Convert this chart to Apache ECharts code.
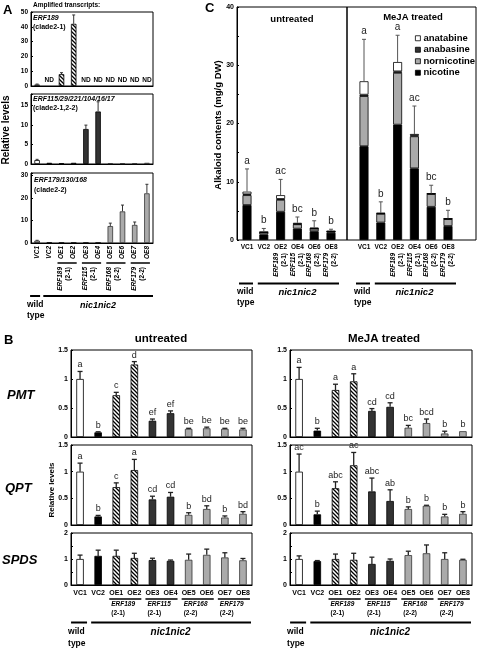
<!DOCTYPE html>
<html><head><meta charset="utf-8">
<script src="https://cdn.jsdelivr.net/npm/echarts@6/dist/echarts.min.js"></script>
<style>html,body{margin:0;padding:0;background:#fff}#c{width:478px;height:650px}</style>
</head><body><div id="c"></div>
<script>
// ---------------- DATA ----------------
// Panel A
const catsA = ['VC1','VC2','OE1','OE2','OE3','OE4','OE5','OE6','OE7','OE8'];
const fillA = ['W','K','H','H','D','D','G','G','G','G'];
const genePairs = [[2,3,'ERF189','(2-1)'],[4,5,'ERF115','(2-1)'],[6,7,'ERF168','(2-2)'],[8,9,'ERF179','(2-2)']];
const a1Val = [1.0, null, 8.0, 42.0, null, null, null, null, null, null];
const a1Err = [0.3, 0, 1.0, 6.0, 0, 0, 0, 0, 0, 0];
const a1Note = ['', 'ND', '', '', 'ND', 'ND', 'ND', 'ND', 'ND', 'ND'];
const a2Val = [1.0, 0.3, 0.2, 0.3, 9.0, 13.5, 0.2, 0.2, 0.2, 0.3];
const a2Err = [0.2, 0, 0, 0, 1.0, 2.5, 0, 0, 0, 0];
const a3Val = [1.0, 0.2, 0.1, 0.1, 0.1, 0.1, 7.5, 14.0, 8.0, 22.0];
const a3Err = [0.2, 0, 0, 0, 0, 0, 1.3, 2.8, 1.3, 4.0];
const ticksA1 = [0, 10, 20, 30, 40, 50];
const ticksA2 = [0, 5, 10, 15];
const ticksA3 = [0, 10, 20, 30];

// Panel B
const pmtU = [1.00, 0.08, 0.72, 1.25, 0.28, 0.41, 0.14, 0.15, 0.14, 0.13];
const pmtUErr = [0.13, 0.01, 0.05, 0.05, 0.03, 0.04, 0.01, 0.02, 0.01, 0.02];
const pmtULet = ['a','b','c','d','ef','ef','be','be','be','be'];
const pmtM = [1.00, 0.11, 0.81, 0.96, 0.45, 0.52, 0.16, 0.24, 0.06, 0.10];
const pmtMErr = [0.20, 0.04, 0.10, 0.13, 0.04, 0.07, 0.04, 0.07, 0.04, 0.0];
const pmtMLet = ['a','b','a','a','cd','cd','bc','bcd','b','b'];
const qptU = [1.00, 0.16, 0.71, 1.03, 0.48, 0.53, 0.19, 0.30, 0.14, 0.21];
const qptUErr = [0.16, 0.02, 0.08, 0.20, 0.06, 0.08, 0.04, 0.06, 0.03, 0.04];
const qptULet = ['a','b','c','a','cd','cd','b','bd','b','bd'];
const qptM = [1.00, 0.20, 0.69, 1.12, 0.63, 0.45, 0.30, 0.36, 0.16, 0.21];
const qptMErr = [0.33, 0.06, 0.12, 0.24, 0.25, 0.21, 0.04, 0.01, 0.04, 0.04];
const qptMLet = ['ac','b','abc','ac','abc','ab','b','b','b','b'];
const spdsU = [1.00, 1.12, 1.12, 1.04, 0.96, 0.93, 0.97, 1.16, 1.06, 0.95];
const spdsUErr = [0.15, 0.22, 0.22, 0.18, 0.07, 0.03, 0.22, 0.22, 0.18, 0.07];
const spdsM = [1.00, 0.92, 1.00, 0.97, 0.81, 0.93, 1.15, 1.22, 1.00, 0.97];
const spdsMErr = [0.12, 0.02, 0.19, 0.25, 0.26, 0.07, 0.15, 0.32, 0.24, 0.02];
const ticksB = [0, 0.5, 1, 1.5];
const ticksSPDS = [0, 1, 2];

// Panel C
const catsC = ['VC1','VC2','OE2','OE4','OE6','OE8'];
const genesC = [null, null, ['ERF189','(2-1)'], ['ERF115','(2-1)'], ['ERF168','(2-2)'], ['ERF179','(2-2)']];
const nicU = [6.0, 0.95, 4.85, 1.95, 1.5, 1.25];
const norU = [1.7, 0.35, 2.05, 0.75, 0.45, 0.2];
const anbU = [0.15, 0.03, 0.15, 0.05, 0.03, 0.02];
const antU = [0.45, 0.05, 0.65, 0.2, 0.12, 0.08];
const errCU = [3.9, 0.6, 2.7, 1.0, 1.2, 0.3];
const letCU = ['a','b','ac','bc','b','b'];
const nicM = [16.1, 3.0, 19.8, 12.3, 5.7, 2.4];
const norM = [8.6, 1.5, 8.9, 5.5, 2.2, 1.2];
const anbM = [0.25, 0.05, 0.25, 0.15, 0.03, 0.03];
const antM = [2.3, 0.1, 1.6, 0.25, 0.07, 0.07];
const errCM = [7.2, 1.9, 4.6, 4.8, 1.4, 1.4];
const letCM = ['a','b','a','ac','bc','b'];
const ticksC = [0, 10, 20, 30, 40];
const compNames = ['nicotine','nornicotine','anabasine','anatabine'];
const legendOrder = ['anatabine','anabasine','nornicotine','nicotine'];

// ---------------- STYLE HELPERS ----------------
const FF = '"Liberation Sans", Arial, Helvetica, sans-serif';
function font(sz, w, st){ return (st||'normal') + ' ' + (w||'bold') + ' ' + sz + 'px ' + FF; }
const hatchCanvas = (function(){
  const c = document.createElement('canvas'); c.width = 4; c.height = 4;
  const g = c.getContext('2d'); g.fillStyle = '#fff'; g.fillRect(0,0,4,4);
  g.strokeStyle = '#000'; g.lineWidth = 1.3; g.beginPath();
  g.moveTo(-1,-1); g.lineTo(5,5); g.moveTo(-1,3); g.lineTo(1,5); g.moveTo(3,-1); g.lineTo(5,1);
  g.stroke(); return c;
})();
const FILL = {W:'#ffffff', K:'#000000', H:{image:hatchCanvas, repeat:'repeat'}, D:'#333333', G:'#aaaaaa'};

const grids = [], xAxes = [], yAxes = [], series = [];
function addGrid(rect, xa, ya){
  const gi = grids.length;
  grids.push(Object.assign({show:false, borderColor:'#000', borderWidth:1, containLabel:false}, rect));
  xAxes.push(Object.assign({gridIndex:gi}, xa));
  yAxes.push(Object.assign({gridIndex:gi}, ya));
  return gi;
}
function catX(cats, lab, lineShow){
  return {type:'category', data:cats, axisTick:{show:false},
    axisLine:{show: lineShow !== false, lineStyle:{color:'#000', width:1}},
    axisLabel: lab ? Object.assign({show:true, interval:0, color:'#000', fontFamily:FF, fontWeight:'bold'}, lab) : {show:false},
    splitLine:{show:false}};
}
function valY(min, max, interval, ticks, fs){
  return {type:'value', min, max, interval,
    axisLine:{show:true, lineStyle:{color:'#000'}},
    axisTick:{show:true, inside:true, length:2, lineStyle:{color:'#000'}},
    splitLine:{show:false},
    axisLabel:{show:true, color:'#000', fontSize:fs, fontWeight:'bold', fontFamily:FF, margin:3,
      formatter: v => ticks.some(t => Math.abs(t - v) < 1e-9) ? String(v) : ''}};
}
function hidY(min, max){ return {type:'value', min, max, show:false}; }

function bars(gi, vals, keys, bw){
  series.push({type:'bar', xAxisIndex:gi, yAxisIndex:gi, barWidth:bw, animation:false, silent:true, z:2,
    data: vals.map((v,i) => v == null ? '-' : {value:v, itemStyle:{color:FILL[keys[i]], borderColor: keys[i]==='G' ? '#333' : '#000', borderWidth:0.8}})});
}
function errs(gi, vals, es, opt){
  series.push({type:'custom', xAxisIndex:gi, yAxisIndex:gi, silent:true, animation:false, z:5,
    data: vals.map((v,i) => [i, v == null ? 0 : v, es[i] == null ? 0 : es[i]]),
    renderItem: function(params, api){
      const i = params.dataIndex;
      const x = api.value(0), v = api.value(1), e = api.value(2);
      const p0 = api.coord([x, v]), p1 = api.coord([x, v + e]);
      const ch = [];
      if (e > 0) {
        ch.push({type:'line', shape:{x1:p0[0], y1:p0[1], x2:p1[0], y2:p1[1]}, style:{stroke:opt.ec, lineWidth:opt.elw}});
        ch.push({type:'line', shape:{x1:p1[0]-opt.cap, y1:p1[1], x2:p1[0]+opt.cap, y2:p1[1]}, style:{stroke:opt.ec, lineWidth:opt.elw}});
      }
      const lab = opt.labels ? opt.labels[i] : '';
      if (lab) ch.push({type:'text', x:p1[0], y:p1[1] - opt.lgap,
        style:{text:lab, font:opt.lfont, fill:opt.lcol || '#222', align:'center', textAlign:'center', verticalAlign:'bottom', textVerticalAlign:'bottom'}});
      return {type:'group', children:ch};
    }});
}

// ---------------- PANEL A ----------------
const gA1 = addGrid({left:31, top:12, width:122, height:74, show:true}, catX(catsA, null), valY(0, 50, 10, ticksA1, 6.5));
const gA2 = addGrid({left:31, top:94, width:122, height:70, show:true}, catX(catsA, null), valY(0, 18, 5, ticksA2, 6.5));
const gA3 = addGrid({left:31, top:173, width:122, height:70, show:true},
  catX(catsA, {rotate:90, fontStyle:'italic', fontSize:6.5, margin:3}), valY(0, 31, 10, ticksA3, 6.5));
bars(gA1, a1Val, fillA, 5.5); bars(gA2, a2Val, fillA, 5.5); bars(gA3, a3Val, fillA, 5.5);
errs(gA1, a1Val, a1Err, {ec:'#333', elw:1, cap:1.5, labels:a1Note, lfont:font(6.5), lgap:2, lcol:'#000'});
errs(gA2, a2Val, a2Err, {ec:'#333', elw:1, cap:1.5});
errs(gA3, a3Val, a3Err, {ec:'#333', elw:1, cap:1.5});

// ---------------- PANEL C ----------------
const gCuf = addGrid({left:237, top:7, width:110, height:233, show:true}, {type:'category', data:[''], show:false}, valY(0, 40, 5, ticksC, 7));
const gCmf = addGrid({left:347, top:7, width:129, height:233, show:true}, {type:'category', data:[''], show:false}, hidY(0, 40));
const gCu = addGrid({left:238.6, top:7, width:100.8, height:233}, catX(catsC, {fontSize:6.5, margin:4}, false), hidY(0, 40));
const gCm = addGrid({left:355.6, top:7, width:100.8, height:233}, catX(catsC, {fontSize:6.5, margin:4}, false), hidY(0, 40));
const compCols = {nicotine:'#000000', nornicotine:'#aaaaaa', anabasine:'#333333', anatabine:'#ffffff'};
function stackC(gi, comps, sid){
  comps.forEach((arr, k) => series.push({type:'bar', name:compNames[k], stack:sid, xAxisIndex:gi, yAxisIndex:gi,
    barWidth:9, animation:false, silent:true, z:2,
    itemStyle:{color:compCols[compNames[k]], borderColor:'#000', borderWidth:0.8}, data:arr}));
}
stackC(gCu, [nicU, norU, anbU, antU], 'u');
stackC(gCm, [nicM, norM, anbM, antM], 'm');
const totU = nicU.map((v,i) => v + norU[i] + anbU[i] + antU[i]);
const totM = nicM.map((v,i) => v + norM[i] + anbM[i] + antM[i]);
errs(gCu, totU, errCU, {ec:'#555', elw:1, cap:2, labels:letCU, lfont:font(10, 'normal'), lgap:3});
errs(gCm, totM, errCM, {ec:'#555', elw:1, cap:2, labels:letCM, lfont:font(10, 'normal'), lgap:3});

// ---------------- PANEL B ----------------
const BU = {left:71, width:181}, BM = {left:290, width:182};
const rows = [{top:350, height:87}, {top:445, height:80}, {top:533, height:52}];
const xlabB = {fontSize:7, margin:5};
const gPU = addGrid(Object.assign({show:true}, BU, rows[0]), catX(catsA, null), valY(0, 1.5, 0.5, ticksB, 7));
const gPM = addGrid(Object.assign({show:true}, BM, rows[0]), catX(catsA, null), valY(0, 1.5, 0.5, ticksB, 7));
const gQU = addGrid(Object.assign({show:true}, BU, rows[1]), catX(catsA, null), valY(0, 1.5, 0.5, ticksB, 7));
const gQM = addGrid(Object.assign({show:true}, BM, rows[1]), catX(catsA, null), valY(0, 1.5, 0.5, ticksB, 7));
const gSU = addGrid(Object.assign({show:true}, BU, rows[2]), catX(catsA, xlabB), valY(0, 2, 0.5, ticksSPDS, 7));
const gSM = addGrid(Object.assign({show:true}, BM, rows[2]), catX(catsA, xlabB), valY(0, 2, 0.5, ticksSPDS, 7));
const eB = (labels) => ({ec:'#222', elw:1.3, cap:2.5, labels, lfont:font(9, 'normal'), lgap:2});
[[gPU, pmtU, pmtUErr, pmtULet], [gPM, pmtM, pmtMErr, pmtMLet], [gQU, qptU, qptUErr, qptULet], [gQM, qptM, qptMErr, qptMLet],
 [gSU, spdsU, spdsUErr, null], [gSM, spdsM, spdsMErr, null]].forEach(r => {
  bars(r[0], r[1], fillA, 7.5); errs(r[0], r[1], r[2], eB(r[3]));
});

const option = {
  animation:false, backgroundColor:'#fff',
  grid:grids, xAxis:xAxes, yAxis:yAxes, series,
  legend:{data:legendOrder.map(n => ({name:n, icon:'rect', itemStyle:{color:compCols[n], borderColor:'#000', borderWidth:0.8}})),
    orient:'vertical', left:410, top:28,
    itemWidth:5, itemHeight:5, itemGap:1, selectedMode:false,
    textStyle:{fontSize:9.5, fontWeight:'bold', fontFamily:FF, color:'#000', lineHeight:10.5, padding:[0,0,0,-2]}}
};
const chart = echarts.init(document.getElementById('c'), null, {renderer:'canvas'});
chart.setOption(option);

// ---------------- ANNOTATIONS ----------------
const G = [];
function txt(x, y, text, f, o){ const e = {type:'text', x, y, silent:true, style:Object.assign({text, font:f, fill:'#000', align:'left', textAlign:'left', verticalAlign:'middle', textVerticalAlign:'middle'}, (o && o.style) || {})}; if (o && o.rotation) e.rotation = o.rotation; return e; }
function ln(x1, y1, x2, y2, w){ return {type:'line', silent:true, shape:{x1, y1, x2, y2}, style:{stroke:'#000', lineWidth:w || 1.5}}; }
function rotGene(x, y, g1, g2, fs){
  return {type:'text', x, y, rotation:Math.PI/2, silent:true,
    style:{text:'{i|' + g1 + '}\n{n|' + g2 + '}', align:'right', textAlign:'right', verticalAlign:'middle', textVerticalAlign:'middle', fill:'#000',
      rich:{i:{fontStyle:'italic', fontWeight:'bold', fontSize:fs, fontFamily:FF, lineHeight:fs+1.5}, n:{fontWeight:'bold', fontSize:fs, fontFamily:FF, lineHeight:fs+1.5}}}};
}
const px = (gi, i) => chart.convertToPixel({gridIndex:gi}, [i, 0])[0];
const C = {style:{align:'center', textAlign:'center'}};

// panel letters & headings
G.push(txt(3, 10, 'A', font(13)));
G.push(txt(33, 5, 'Amplified transcripts:', font(6.5)));
G.push(txt(205, 8, 'C', font(13)));
G.push(txt(4, 340, 'B', font(13)));
G.push(txt(33, 18, 'ERF189', font(7, 'bold', 'italic')));
G.push(txt(33, 27, '(clade2-1)', font(7)));
G.push(txt(33, 99, 'ERF115/29/221/104/16/17', font(7, 'bold', 'italic')));
G.push(txt(33, 108, '(clade2-1,2-2)', font(7)));
G.push(txt(34, 180, 'ERF179/130/168', font(7, 'bold', 'italic')));
G.push(txt(34, 190, '(clade2-2)', font(7)));
G.push(txt(6, 130, 'Relative levels', font(10), {rotation:Math.PI/2, style:{align:'center', textAlign:'center'}}));

// A x-annotations
const xsA = catsA.map((c,i) => px(gA3, i));
genePairs.forEach(p => {
  G.push(ln(xsA[p[0]] - 4, 263, xsA[p[1]] + 3, 263, 1.5));
  G.push(rotGene((xsA[p[0]] + xsA[p[1]]) / 2 - 3, 267, p[2], p[3], 6.5));
});
G.push(ln(xsA[0] - 7, 296, xsA[0] + 3, 296, 2));
G.push(ln(xsA[1] - 6, 296, 153, 296, 2));
G.push(txt(27, 305, 'wild', font(8.5)));
G.push(txt(27, 316, 'type', font(8.5)));
G.push(txt((xsA[1] + xsA[9]) / 2, 306, 'nic1nic2', font(9, 'bold', 'italic'), C));

// C annotations
G.push(txt(292, 19, 'untreated', font(9.5), C));
G.push(txt(413, 17, 'MeJA treated', font(9.5), C));
G.push(txt(218, 125, 'Alkaloid contents (mg/g DW)', font(9.5), {rotation:Math.PI/2, style:{align:'center', textAlign:'center'}}));
[gCu, gCm].forEach(gi => {
  const xs = catsC.map((c,i) => px(gi, i));
  genesC.forEach((g, i) => { if (g) G.push(rotGene(xs[i] - 0.5, 253, g[0], g[1], 6.5)); });
  G.push(ln(xs[0] - 8, 283.5, xs[0] + 6, 283.5, 2));
  G.push(ln(xs[1] - 6, 283.5, xs[5] + 8, 283.5, 2));
  G.push(txt(xs[0] - 10, 292, 'wild', font(8.5)));
  G.push(txt(xs[0] - 10, 303, 'type', font(8.5)));
  G.push(txt((xs[1] + xs[5]) / 2, 292, 'nic1nic2', font(9.5, 'bold', 'italic'), C));
});

// B annotations
G.push(txt(161, 339, 'untreated', font(11.5), C));
G.push(txt(384, 339, 'MeJA treated', font(11.5), C));
G.push(txt(7, 395, 'PMT', font(13, 'bold', 'italic')));
G.push(txt(5, 488, 'QPT', font(13, 'bold', 'italic')));
G.push(txt(2, 560, 'SPDS', font(13, 'bold', 'italic')));
G.push(txt(52, 490, 'Relative levels', font(8), {rotation:Math.PI/2, style:{align:'center', textAlign:'center'}}));
[[gSU, 71 + 181], [gSM, 290 + 182]].forEach(r => {
  const gi = r[0], right = r[1];
  const xs = catsA.map((c,i) => px(gi, i));
  genePairs.forEach(p => {
    G.push(ln(xs[p[0]] - 7, 599, xs[p[1]] + 7, 599, 1.5));
    G.push(txt(xs[p[0]] - 5, 604.5, p[2], font(6.5, 'bold', 'italic')));
    G.push(txt(xs[p[0]] - 5, 613, p[3], font(6.5)));
  });
  G.push(ln(xs[0] - 9, 622.5, xs[0] + 7, 622.5, 2));
  G.push(ln(xs[1] - 7, 622.5, right - 1, 622.5, 2));
  G.push(txt(xs[0] - 12, 632, 'wild', font(8.5)));
  G.push(txt(xs[0] - 12, 644, 'type', font(8.5)));
  G.push(txt((xs[1] + xs[9]) / 2, 632, 'nic1nic2', font(10, 'bold', 'italic'), C));
});
chart.setOption({graphic:G});
</script>
</body></html>
